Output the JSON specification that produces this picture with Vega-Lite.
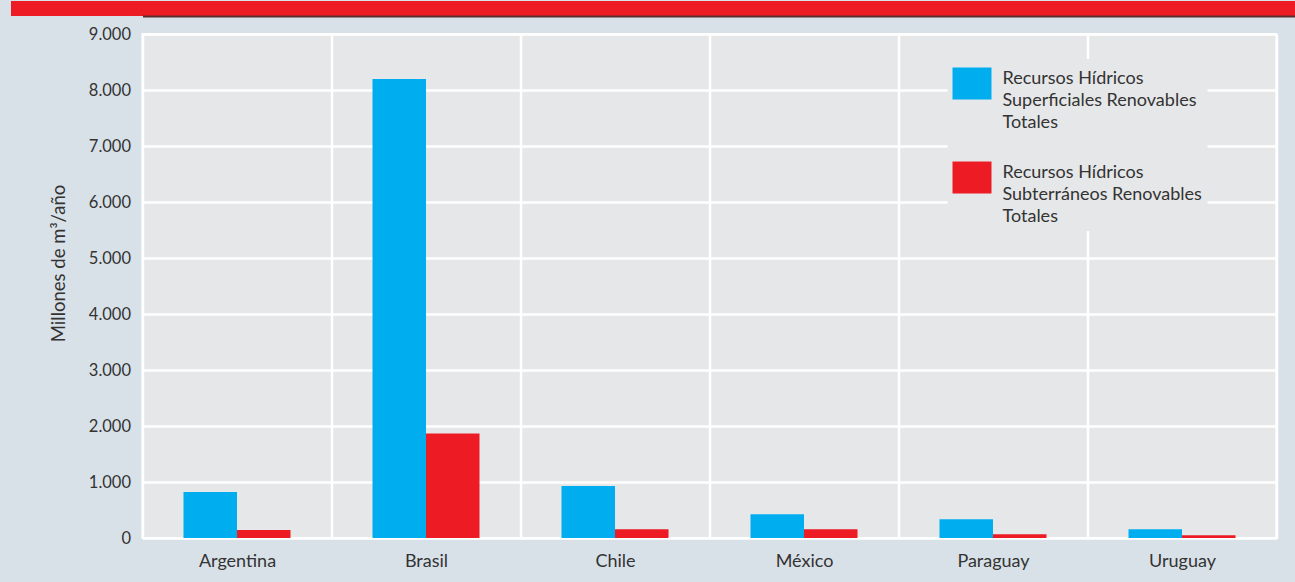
{
  "$schema": "https://vega.github.io/schema/vega-lite/v6.json",
  "background": "#D9E1E8",
  "padding": {"left": 2.5, "top": 0, "right": 0, "bottom": 11},
  "spacing": 9,
  "config": {
    "font": "Lato",
    "locale": {"number": {"decimal": ",", "thousands": ".", "grouping": [3], "currency": ["$", ""]}},
    "style": {"guide-label": {"lineHeight": 22}},
    "axis": {"labelColor": "#333333", "titleColor": "#333333", "titleFontWeight": "normal", "ticks": false, "domain": false}
  },
  "vconcat": [
    {
      "width": 1285,
      "height": 15,
      "view": {"stroke": null},
      "data": {"values": [{"banda": "cabecera"}]},
      "mark": {"type": "rect", "color": "#ED1C24"},
      "encoding": {
        "x": {
          "field": "banda",
          "type": "nominal",
          "scale": {"paddingInner": 0, "paddingOuter": 0},
          "axis": {"title": null, "labels": false, "ticks": false, "grid": false, "domain": true, "domainColor": "#5B2A2A", "domainWidth": 2}
        },
        "y": {
          "field": "banda",
          "type": "nominal",
          "scale": {"paddingInner": 0, "paddingOuter": 0},
          "axis": {"title": null, "labels": false, "grid": false, "domain": false, "ticks": true, "tickSize": 132, "tickWidth": 15, "tickColor": "#ED1C24", "tickCap": "butt"}
        }
      }
    },
    {
      "width": 1134,
      "height": 504,
      "view": {"fill": "#E6E7E9", "stroke": "#FFFFFF", "strokeWidth": 2},
      "data": {
        "values": [
          {"pais": "Argentina", "tipo": "Recursos Hídricos Superficiales Renovables Totales", "valor": 820},
          {"pais": "Argentina", "tipo": "Recursos Hídricos Subterráneos Renovables Totales", "valor": 143},
          {"pais": "Brasil", "tipo": "Recursos Hídricos Superficiales Renovables Totales", "valor": 8197},
          {"pais": "Brasil", "tipo": "Recursos Hídricos Subterráneos Renovables Totales", "valor": 1867},
          {"pais": "Chile", "tipo": "Recursos Hídricos Superficiales Renovables Totales", "valor": 927},
          {"pais": "Chile", "tipo": "Recursos Hídricos Subterráneos Renovables Totales", "valor": 155},
          {"pais": "México", "tipo": "Recursos Hídricos Superficiales Renovables Totales", "valor": 423},
          {"pais": "México", "tipo": "Recursos Hídricos Subterráneos Renovables Totales", "valor": 155},
          {"pais": "Paraguay", "tipo": "Recursos Hídricos Superficiales Renovables Totales", "valor": 333},
          {"pais": "Paraguay", "tipo": "Recursos Hídricos Subterráneos Renovables Totales", "valor": 66},
          {"pais": "Uruguay", "tipo": "Recursos Hídricos Superficiales Renovables Totales", "valor": 155},
          {"pais": "Uruguay", "tipo": "Recursos Hídricos Subterráneos Renovables Totales", "valor": 48}
        ]
      },
      "mark": {"type": "bar"},
      "encoding": {
        "x": {
          "field": "pais",
          "type": "nominal",
          "sort": null,
          "scale": {"paddingInner": 0, "paddingOuter": 0},
          "axis": {
            "title": null,
            "labelAngle": 0,
            "labelFontSize": 18,
            "labelPadding": 14,
            "tickBand": "extent",
            "grid": true,
            "gridColor": "#FFFFFF",
            "gridWidth": 2.5,
            "gridOpacity": 1
          }
        },
        "xOffset": {
          "field": "tipo",
          "type": "nominal",
          "sort": ["Recursos Hídricos Superficiales Renovables Totales", "Recursos Hídricos Subterráneos Renovables Totales"],
          "scale": {"paddingInner": 0, "paddingOuter": 0.766}
        },
        "y": {
          "field": "valor",
          "type": "quantitative",
          "scale": {"domain": [0, 9000], "nice": false},
          "axis": {
            "title": "Millones de m³/año",
            "titleFontSize": 18.5,
            "titlePadding": 20,
            "titleY": 229,
            "values": [0, 1000, 2000, 3000, 4000, 5000, 6000, 7000, 8000, 9000],
            "format": ",d",
            "labelFontSize": 16.5,
            "labelPadding": 12,
            "grid": true,
            "gridColor": "#FFFFFF",
            "gridWidth": 2.5,
            "gridOpacity": 1
          }
        },
        "color": {
          "field": "tipo",
          "type": "nominal",
          "scale": {
            "domain": ["Recursos Hídricos Superficiales Renovables Totales", "Recursos Hídricos Subterráneos Renovables Totales"],
            "range": ["#00AEEF", "#ED1C24"]
          },
          "legend": {
            "title": null,
            "orient": "none",
            "legendX": 805,
            "legendY": 58,
            "fillColor": "#E6E7E9",
            "padding": 5,
            "symbolType": "M-1,-0.82H1V0.82H-1Z",
            "symbolSize": 1521,
            "symbolStrokeWidth": 0,
            "symbolOpacity": 1,
            "labelOffset": 11,
            "labelFontSize": 18,
            "labelColor": "#333333",
            "labelBaseline": "alphabetic",
            "labelLimit": 400,
            "rowPadding": 26,
            "labelExpr": "datum.label == 'Recursos Hídricos Superficiales Renovables Totales' ? ['Recursos Hídricos', 'Superficiales Renovables', 'Totales'] : ['Recursos Hídricos', 'Subterráneos Renovables', 'Totales']"
          }
        }
      }
    }
  ]
}
